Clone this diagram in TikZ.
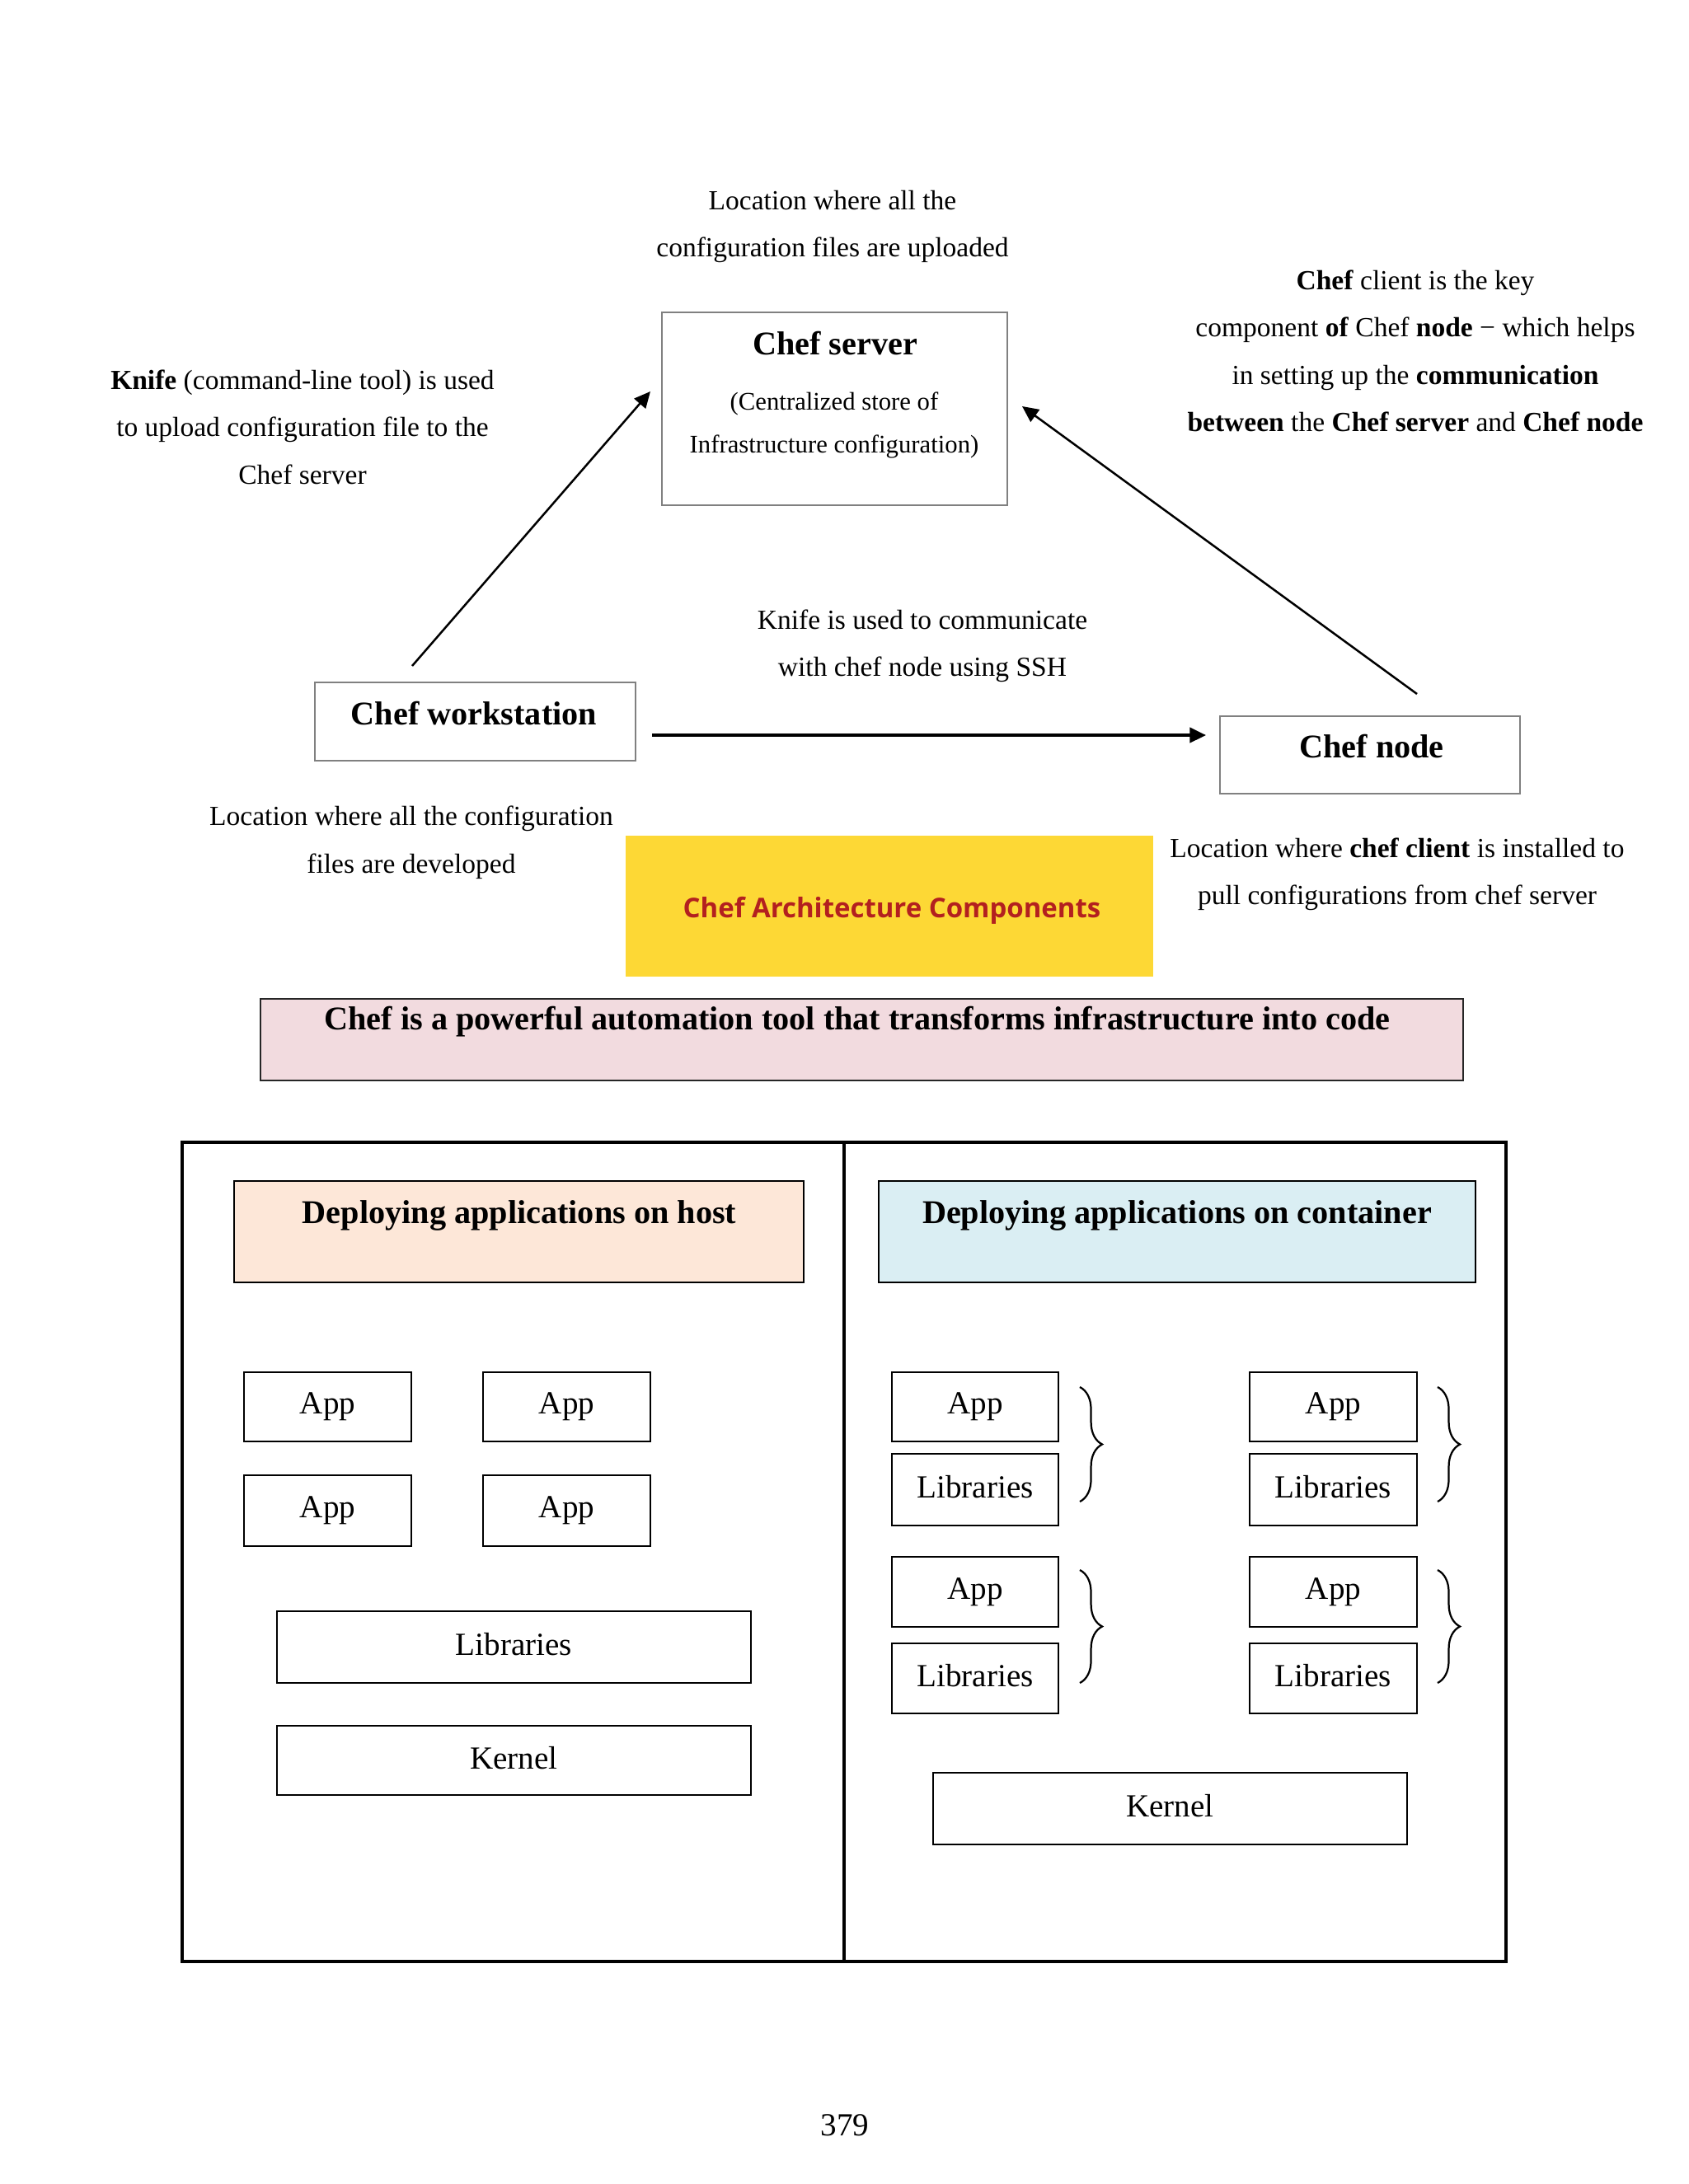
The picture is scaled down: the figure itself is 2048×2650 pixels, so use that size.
\documentclass[tikz,border=0pt]{standalone}
\usepackage{fontspec}
\setmainfont{Liberation Serif}
\newfontfamily\osans{Open Sans}
\usetikzlibrary{arrows.meta,fit,decorations.pathreplacing}
\definecolor{ylw}{HTML}{FDD835}
\definecolor{redt}{HTML}{B3201F}
\definecolor{pinkf}{HTML}{F2DBDF}
\definecolor{peach}{HTML}{FDE7D8}
\definecolor{lblue}{HTML}{DAEEF3}
\definecolor{gline}{HTML}{808080}
\tikzset{
  txt/.style={font=\fontsize{12}{20.6}\selectfont, align=center, inner sep=0pt},
  ttl/.style={font=\fontsize{14.4}{17}\selectfont\bfseries, inner sep=0pt},
  gbox/.style={draw=gline, line width=0.6pt, inner sep=0pt},
  bbox/.style={draw=black, line width=1pt, inner sep=0pt},
  btxt/.style={font=\fontsize{14}{17}\selectfont, inner sep=0pt},
  ltxt/.style={btxt, yshift=1.1pt},
  hbox/.style={draw=black, line width=0.9pt, inner sep=0pt},
  arr/.style={line width=0.9pt, -{Triangle[length=7pt,width=6.5pt]}},
  brc/.style={line width=0.8pt, decorate, decoration={brace, amplitude=9.7pt}}
}
\begin{document}
\begin{tikzpicture}[x=0.358pt, y=-0.358pt]
\useasboundingbox (0,0) rectangle (2048,2650);
\fill[white] (0,0) rectangle (2048,2650);

% ---- top part ----
\node[txt] (tloc) at (1010,275) {Location where all the\\configuration files are uploaded};
\node[gbox, fit={(803,379) (1222,613)}] (srv) {};
\node[ttl] (srvt) at (1013,417) {Chef server};
\node[txt, font=\fontsize{11}{18.6}\selectfont] (srvd) at (1012,516) {(Centralized store of\\Infrastructure configuration)};

\node[txt] (knife) at (367,518) {\textbf{Knife} (command-line tool) is used\\to upload configuration file to the\\Chef server};
\node[txt] (client) at (1717,426) {\textbf{Chef} client is the key\\component \textbf{of} Chef \textbf{node} − which helps\\in setting up the \textbf{communication}\\\textbf{between} the \textbf{Chef server} and \textbf{Chef node}};

\node[gbox, fit={(382,828) (771,923)}] (ws) {};
\node[ttl] (wst) at (575,866) {Chef workstation};
\node[gbox, fit={(1480,869) (1844,963)}] (cn) {};
\node[ttl] (cnt) at (1664,906) {Chef node};

\node[txt] (ssh) at (1119,784) {Knife is used to communicate\\with chef node using SSH};
\node[txt] (wsloc) at (499,1022) {Location where all the configuration\\files are developed};
\node[txt] (cnloc) at (1695,1061) {Location where \textbf{chef client} is installed to\\pull configurations from chef server};

\coordinate (a1s) at (500,808);
\coordinate (a1e) at (789,475);
\coordinate (a2s) at (1719,842);
\coordinate (a2e) at (1240,493);
\coordinate (a3s) at (791,892);
\coordinate (a3e) at (1463,892);
\draw[arr] (a1s) -- (a1e);
\draw[arr] (a2s) -- (a2e);
\draw[arr, line width=1.3pt] (a3s) -- (a3e);

\node[fill=ylw, inner sep=0pt, fit={(759,1014) (1399,1185)}] (yel) {};
\node[font=\osans\bfseries\fontsize{11.8}{14}\selectfont, text=redt, inner sep=0pt] (yelt) at (1082,1105) {Chef Architecture Components};

\node[draw=black!85, line width=0.9pt, fill=pinkf, inner sep=0pt, fit={(316,1212) (1775,1311)}] (pink) {};
\node[ttl] (pinkt) at (1040,1240) {Chef is a powerful automation tool that transforms infrastructure into code};

% ---- bottom part ----
\node[draw=black, line width=1.4pt, inner sep=0pt, fit={(221,1386) (1827,2380)}] (big) {};
\coordinate (dtop) at (1024,1386);
\coordinate (dbot) at (1024,2380);
\draw[line width=1.1pt] (dtop) -- (dbot);

\node[hbox, fill=peach, fit={(284,1433) (975,1556)}] (hl) {};
\node[ttl] (hlt) at (630,1475) {Deploying applications on host};
\node[hbox, fill=lblue, fit={(1066,1433) (1790,1556)}] (hr) {};
\node[ttl] (hrt) at (1428,1475) {Deploying applications on container};

\node[bbox, fit={(296,1665) (499,1749)}] (la1) {};
\node[bbox, fit={(586,1665) (789,1749)}] (la2) {};
\node[bbox, fit={(296,1790) (499,1876)}] (la3) {};
\node[bbox, fit={(586,1790) (789,1876)}] (la4) {};
\node[bbox, fit={(336,1955) (911,2042)}] (llib) {};
\node[bbox, fit={(336,2094) (911,2178)}] (lker) {};
\node[btxt] at (la1) {App};
\node[btxt] at (la2) {App};
\node[btxt] at (la3) {App};
\node[btxt] at (la4) {App};
\node[ltxt] at (llib) {Libraries};
\node[ltxt] at (lker) {Kernel};

\node[bbox, fit={(1082,1665) (1284,1749)}] (ra1) {};
\node[bbox, fit={(1082,1764) (1284,1851)}] (rl1) {};
\node[bbox, fit={(1082,1889) (1284,1974)}] (ra3) {};
\node[bbox, fit={(1082,1994) (1284,2079)}] (rl3) {};
\node[bbox, fit={(1516,1665) (1719,1749)}] (ra2) {};
\node[bbox, fit={(1516,1764) (1719,1851)}] (rl2) {};
\node[bbox, fit={(1516,1889) (1719,1974)}] (ra4) {};
\node[bbox, fit={(1516,1994) (1719,2079)}] (rl4) {};
\node[btxt] at (ra1) {App};
\node[ltxt] at (rl1) {Libraries};
\node[btxt] at (ra3) {App};
\node[ltxt] at (rl3) {Libraries};
\node[btxt] at (ra2) {App};
\node[ltxt] at (rl2) {Libraries};
\node[btxt] at (ra4) {App};
\node[ltxt] at (rl4) {Libraries};

\coordinate (b1s) at (1310,1683); \coordinate (b1e) at (1310,1822);
\coordinate (b2s) at (1310,1905); \coordinate (b2e) at (1310,2042);
\coordinate (b3s) at (1744,1683); \coordinate (b3e) at (1744,1822);
\coordinate (b4s) at (1744,1905); \coordinate (b4e) at (1744,2042);
\draw[brc] (b1s) -- (b1e);
\draw[brc] (b2s) -- (b2e);
\draw[brc] (b3s) -- (b3e);
\draw[brc] (b4s) -- (b4e);

\node[bbox, fit={(1132,2151) (1707,2238)}] (rker) {};
\node[ltxt] at (rker) {Kernel};

\node[txt, font=\fontsize{14}{17}\selectfont] (pg) at (1025,2579) {379};
\end{tikzpicture}
\end{document}
